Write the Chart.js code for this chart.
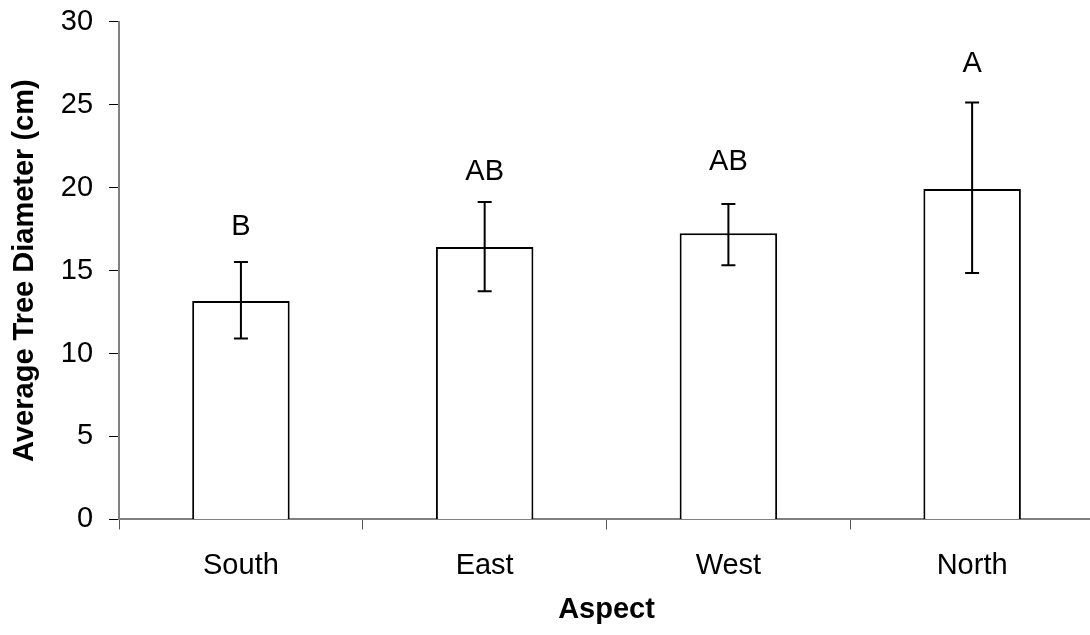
<!DOCTYPE html>
<html>
<head>
<meta charset="utf-8">
<script src="https://cdn.jsdelivr.net/npm/chart.js@4/dist/chart.umd.min.js"></script>
<style>
  html, body { margin: 0; padding: 0; background: #fff; overflow: hidden; }
  #wrap { position: relative; width: 1100px; height: 635px; }
</style>
</head>
<body>
<div id="wrap"><canvas id="c"></canvas></div>
<script>
const categories = ["South", "East", "West", "North"];
const means = [13.17, 16.42, 17.25, 19.92];
const errLow = [10.90, 13.75, 15.32, 14.86];
const errHigh = [15.52, 19.14, 19.02, 25.13];
const groupLetters = ["B", "AB", "AB", "A"];
const letterY = [17.63, 20.93, 21.55, 27.48];
const yTicks = [0, 5, 10, 15, 20, 25, 30];

const FONT = "'Liberation Sans', Arial, sans-serif";

const errorBarPlugin = {
  id: 'errorBars',
  afterDatasetsDraw(chart) {
    const ctx = chart.ctx;
    const x = chart.scales.x, y = chart.scales.y;
    ctx.save();
    ctx.strokeStyle = '#000';
    ctx.lineWidth = 2;
    categories.forEach((c, i) => {
      const px = x.getPixelForValue(i);
      const yl = y.getPixelForValue(errLow[i]);
      const yh = y.getPixelForValue(errHigh[i]);
      const cap = 7;
      ctx.beginPath();
      ctx.moveTo(px, yl); ctx.lineTo(px, yh);
      ctx.moveTo(px - cap, yl); ctx.lineTo(px + cap, yl);
      ctx.moveTo(px - cap, yh); ctx.lineTo(px + cap, yh);
      ctx.stroke();
    });
    ctx.fillStyle = '#000';
    ctx.font = '29px ' + FONT;
    ctx.textAlign = 'center';
    ctx.textBaseline = 'middle';
    categories.forEach((c, i) => {
      ctx.fillText(groupLetters[i], x.getPixelForValue(i), y.getPixelForValue(letterY[i]));
    });
    ctx.restore();
  }
};

new Chart(document.getElementById('c'), {
  type: 'bar',
  data: {
    labels: categories,
    datasets: [{
      data: means,
      backgroundColor: '#ffffff',
      borderColor: '#000000',
      borderWidth: 2,
      barPercentage: 0.4,
      categoryPercentage: 1.0
    }]
  },
  options: {
    responsive: true,
    maintainAspectRatio: false,
    animation: false,
    devicePixelRatio: 1,
    layout: { padding: { top: 1, right: 6, left: 8, bottom: 8 } },
    plugins: { legend: { display: false }, tooltip: { enabled: false } },
    scales: {
      x: {
        offset: true,
        grid: { display: true, offset: true, drawOnChartArea: false, tickLength: 10, color: '#555', lineWidth: 1 },
        border: { display: true, color: '#808080', width: 2 },
        ticks: { color: '#000', font: { family: FONT, size: 29 }, padding: 19 },
        title: { display: true, text: 'Aspect', color: '#000', font: { family: FONT, size: 29, weight: 'bold' }, padding: { top: -10, bottom: 0 } }
      },
      y: {
        min: 0, max: 30,
        afterBuildTicks(axis) { axis.ticks = yTicks.map(v => ({ value: v })); },
        grid: { display: true, drawOnChartArea: false, tickLength: 10, color: '#000', lineWidth: 1 },
        border: { display: true, color: '#808080', width: 2 },
        ticks: { color: '#000', font: { family: FONT, size: 29, lineHeight: 0.4 }, padding: 16 },
        title: { display: true, text: 'Average Tree Diameter (cm)', color: '#000', font: { family: FONT, size: 29, weight: 'bold' }, padding: { top: 0, bottom: 2 } }
      }
    }
  },
  plugins: [errorBarPlugin]
});
</script>
</body>
</html>
